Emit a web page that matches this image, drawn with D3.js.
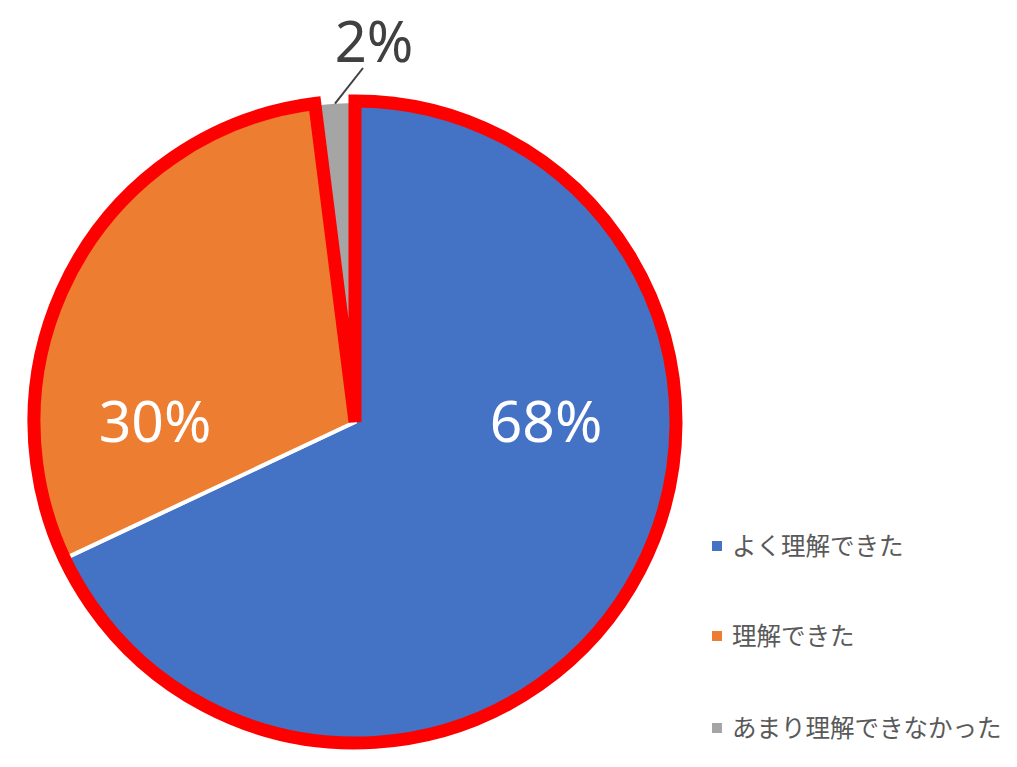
<!DOCTYPE html>
<html>
<head>
<meta charset="utf-8">
<script src="https://cdn.jsdelivr.net/npm/d3@7"></script>
<style>
  body { margin: 0; background: #fff; }
  svg { display: block; }
</style>
</head>
<body>
<script>
// Data
const categories = ["よく理解できた", "理解できた", "あまり理解できなかった"];
const values = [68, 30, 2];
const colors = ["#4472C4", "#ED7D31", "#A5A5A5"];

const width = 1017, height = 767;
const cx = 355, cy = 422, radius = 321;

const svg = d3.select("body")
  .append("svg")
    .attr("width", width)
    .attr("height", height);

const g = svg.append("g")
  .attr("transform", "translate(" + cx + "," + cy + ")");

const pie = d3.pie().sort(null).value(d => d);
const arcs = pie(values);
const arc = d3.arc().innerRadius(0).outerRadius(radius);

// Slices
g.selectAll("path.slice")
  .data(arcs)
  .enter()
  .append("path")
    .attr("class", "slice")
    .attr("d", arc)
    .style("fill", (d, i) => colors[i])
    .style("stroke", "#fff")
    .style("stroke-width", 4)
    .style("stroke-linejoin", "round");

// Red highlight around the first two slices
const highlight = {startAngle: arcs[0].startAngle, endAngle: arcs[1].endAngle};
g.append("path")
  .attr("d", arc(highlight))
  .style("fill", "none")
  .style("stroke", "#FF0000")
  .style("stroke-width", 13)
  .style("stroke-linejoin", "miter");

// Labels inside the big slices
g.selectAll("text.inner")
  .data(arcs.slice(0, 2))
  .enter()
  .append("text")
    .attr("class", "inner")
    .attr("x", (d, i) => i === 0 ? 191 : -200)
    .attr("y", 20)
    .attr("text-anchor", "middle")
    .style("font-family", "'Noto Sans', sans-serif")
    .style("font-size", "57px")
    .style("fill", "#fff")
    .text(d => d.data + "%");

// Small slice label with leader line
const small = arcs[2];
const mid = (small.startAngle + small.endAngle) / 2;
const p0 = [Math.sin(mid) * (radius - 2), -Math.cos(mid) * (radius - 2)];
g.append("line")
  .attr("x1", p0[0]).attr("y1", p0[1])
  .attr("x2", 8).attr("y2", -354)
  .style("stroke", "#404040")
  .style("stroke-width", 2);

g.append("text")
  .attr("x", 19)
  .attr("y", -360)
  .attr("text-anchor", "middle")
  .style("font-family", "'Noto Sans', sans-serif")
  .style("font-size", "56px")
  .style("fill", "#404040")
  .text(small.data + "%");

// Legend
const legend = svg.append("g")
  .attr("transform", "translate(712,546)");

const item = legend.selectAll("g")
  .data(categories)
  .enter()
  .append("g")
    .attr("transform", (d, i) => "translate(0," + [0, 90, 182][i] + ")");

item.append("rect")
  .attr("x", 0).attr("y", -5)
  .attr("width", 10).attr("height", 10)
  .style("fill", (d, i) => colors[i]);

item.append("text")
  .attr("x", 20)
  .attr("y", 9)
  .style("font-family", "'Noto Sans CJK JP', sans-serif")
  .style("font-size", "24.5px")
  .style("fill", "#595959")
  .text(d => d);
</script>
</body>
</html>
